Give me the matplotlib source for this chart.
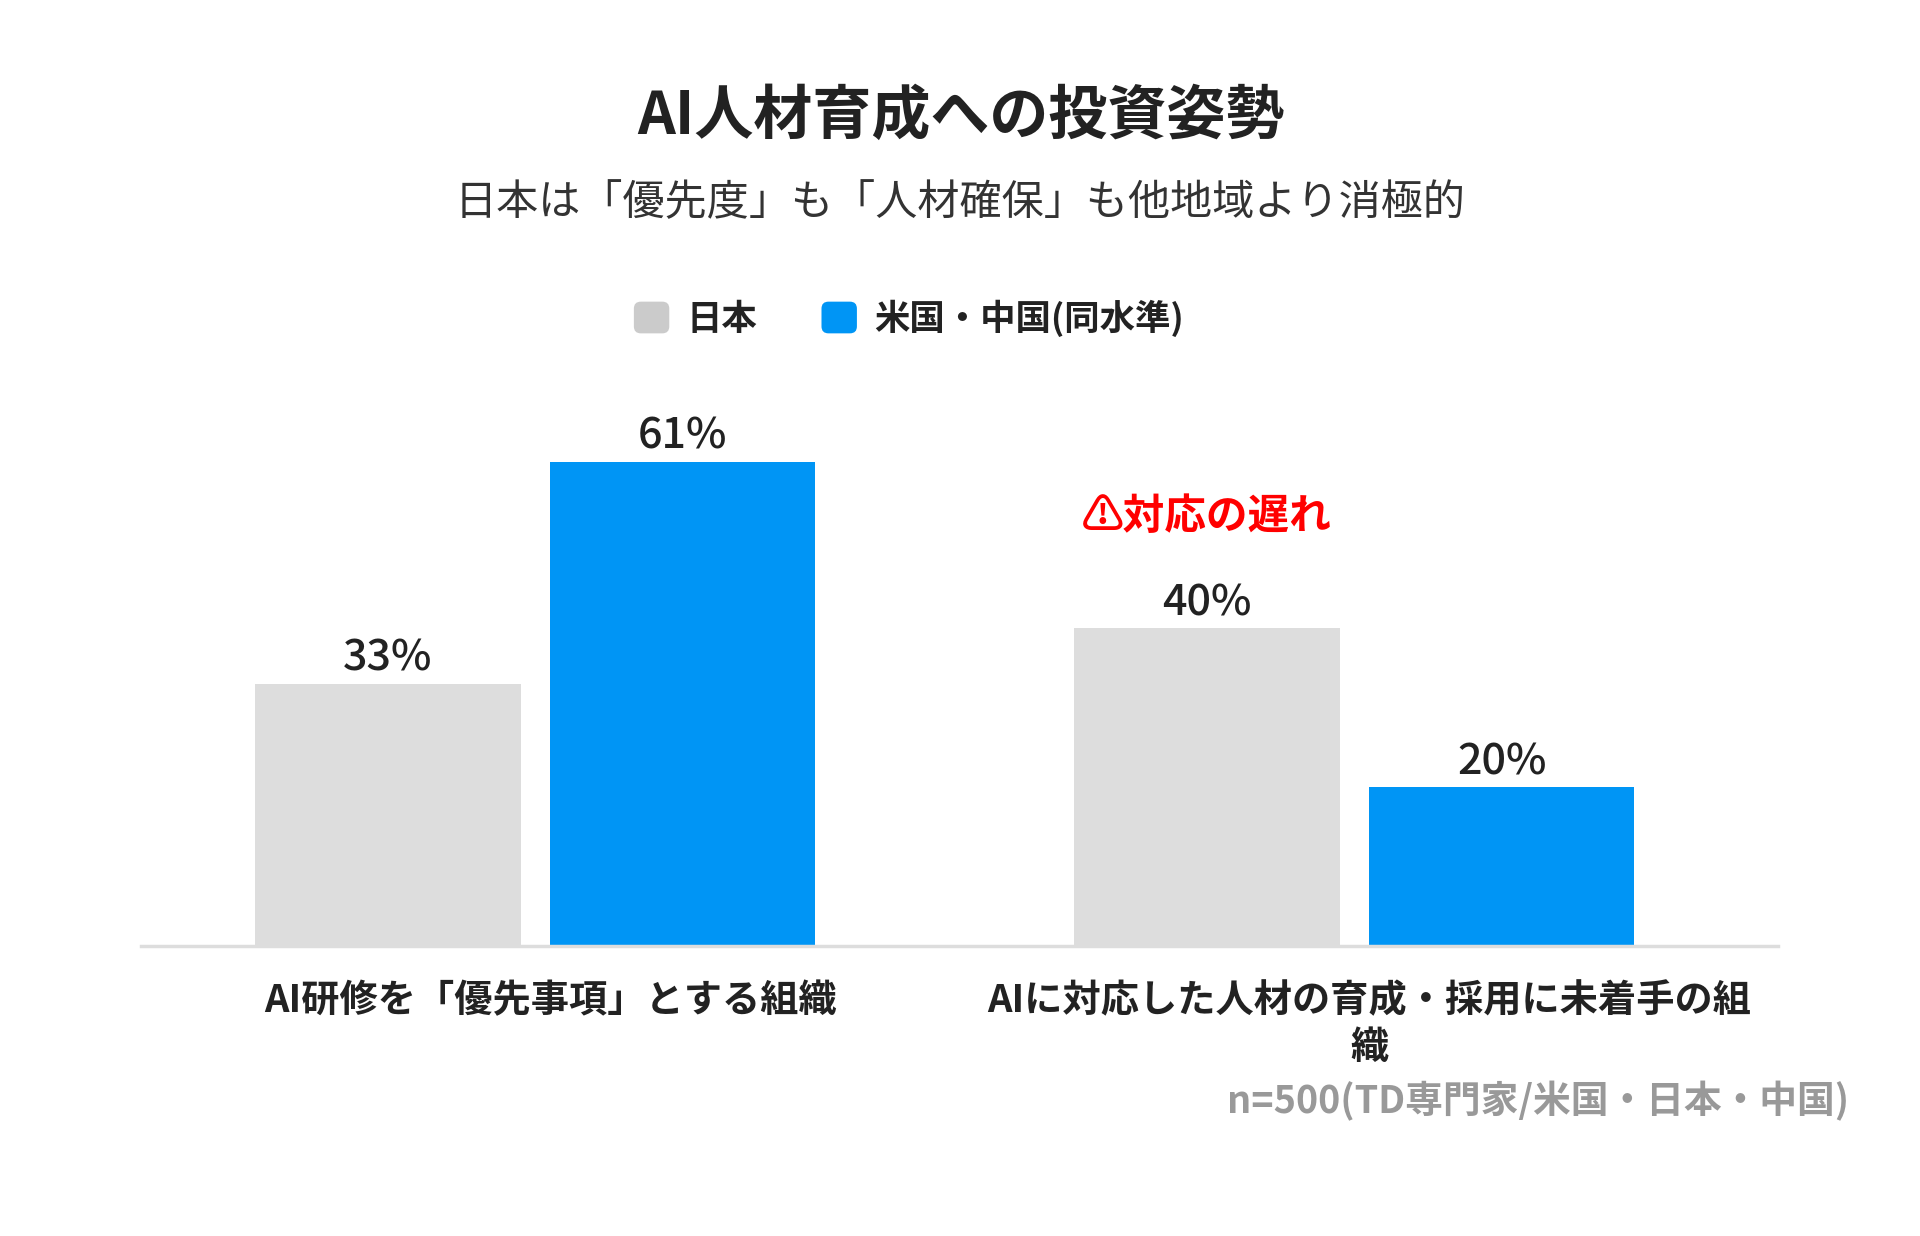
import matplotlib
matplotlib.use("Agg")
import matplotlib.pyplot as plt
import numpy as np
from matplotlib.patches import Patch, FancyBboxPatch
from matplotlib.legend_handler import HandlerPatch

plt.rcParams['font.family'] = ['Noto Sans CJK JP', 'DejaVu Sans']

# data
categories = ["AI研修を「優先事項」とする組織",
              "AIに対応した人材の育成・採用に未着手の組\n織"]
series_names = ["日本", "米国・中国(同水準)"]
japan = [33, 40]
us_china = [61, 20]

title = "AI人材育成への投資姿勢"
subtitle = "日本は「優先度」も「人材確保」も他地域より消極的"
callout = "⚠対応の遅れ"
footnote = "n=500(TD専門家/米国・日本・中国)"

bar_colors = ["#DDDDDD", "#0095F5"]
legend_colors = ["#CBCBCB", "#0095F5"]
text_color = "#222222"


class RoundHandler(HandlerPatch):
    def create_artists(self, legend, orig_handle, xdescent, ydescent,
                       width, height, fontsize, trans):
        p = FancyBboxPatch((-xdescent, -ydescent), width, height,
                           boxstyle="round,pad=0,rounding_size=5",
                           facecolor=orig_handle.get_facecolor(),
                           edgecolor="none", transform=trans)
        return [p]


fig = plt.figure(figsize=(19.2, 12.36), dpi=100)
ax = fig.add_axes([0.0733, 0.2346, 0.853, 0.4498])

x = np.arange(len(categories))
w = 0.324
off = 0.18
b1 = ax.bar(x - off, japan, w, color=bar_colors[0], zorder=2)
b2 = ax.bar(x + off, us_china, w, color=bar_colors[1], zorder=2)

for bars in (b1, b2):
    for rect in bars:
        h = rect.get_height()
        ax.annotate(f"{h:.0f}%", (rect.get_x() + rect.get_width() / 2, h),
                    xytext=(0, 3), textcoords="offset points",
                    ha="center", va="bottom", fontsize=31,
                    fontweight="medium", color=text_color)

# red callout above the Japan bar of the second group
ax.text(x[1] - off, 54, callout, ha="center", va="center", fontsize=30,
        fontweight="bold", color="#FF0000",
        family=['Noto Sans CJK JP', 'DejaVu Sans'])

ax.set_xlim(-0.482, 1.518)
ax.set_ylim(0, 70)
ax.set_yticks([])
# labels sit a little right of the group centres in the original
ax.set_xticks(x + 0.018)
ax.set_xticklabels(categories, fontsize=27.5, fontweight="bold",
                   color=text_color, linespacing=1.28)
ax.tick_params(axis="x", length=0, pad=25)
for s in ("top", "right", "left"):
    ax.spines[s].set_visible(False)
ax.spines["bottom"].set_color("#DDDDDD")
ax.spines["bottom"].set_linewidth(2.5)

fig.text(0.5005, 0.9053, title, ha="center", va="center", fontsize=42.5,
         fontweight="bold", color=text_color)
fig.text(0.4998, 0.8358, subtitle, ha="center", va="center", fontsize=30.3,
         color="#333333")

handles = [Patch(facecolor=c) for c in legend_colors]
leg = fig.legend(handles, series_names, loc="center",
                 bbox_to_anchor=(0.4735, 0.7427), ncol=2, frameon=False,
                 handler_map={Patch: RoundHandler()},
                 handlelength=1.0, handleheight=1.0, handletextpad=0.5,
                 columnspacing=1.8, prop={"size": 25.5, "weight": "bold"})
for t in leg.get_texts():
    t.set_color(text_color)

fig.text(0.963, 0.1095, footnote, ha="right", va="center", fontsize=27.2,
         fontweight="bold", color="#999999")

fig.savefig("out.png", dpi=100, facecolor="white")
